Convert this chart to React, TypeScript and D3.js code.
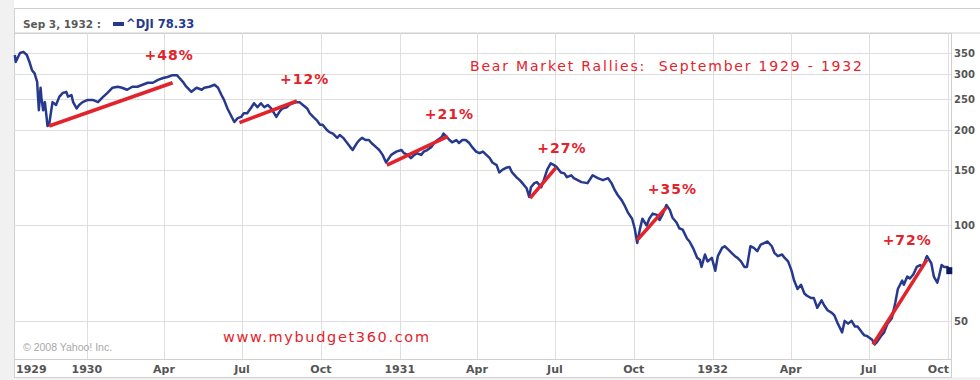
import React from 'react';
import * as d3 from 'd3';

const W = 980;
const H = 380;

// ^DJI closes (approx. every few trading days)
const dowDates: string[] = [
  '1929-10-09','1929-10-10','1929-10-15','1929-10-19','1929-10-23','1929-10-26','1929-10-29','1929-11-01','1929-11-04','1929-11-05',
  '1929-11-06','1929-11-08','1929-11-09','1929-11-11','1929-11-13','1929-11-15','1929-11-16','1929-11-18','1929-11-21','1929-11-22',
  '1929-11-26','1929-11-30','1929-12-04','1929-12-08','1929-12-10','1929-12-14','1929-12-16','1929-12-20','1929-12-23','1929-12-27',
  '1930-01-02','1930-01-08','1930-01-14','1930-01-19','1930-01-25','1930-01-31','1930-02-06','1930-02-11','1930-02-17','1930-02-23',
  '1930-03-01','1930-03-07','1930-03-13','1930-03-19','1930-03-25','1930-03-31','1930-04-05','1930-04-11','1930-04-16','1930-04-19',
  '1930-04-23','1930-04-27','1930-05-03','1930-05-09','1930-05-15','1930-05-18','1930-05-24','1930-05-30','1930-06-03','1930-06-07',
  '1930-06-10','1930-06-14','1930-06-19','1930-06-22','1930-06-26','1930-06-30','1930-07-03','1930-07-07','1930-07-12','1930-07-15',
  '1930-07-19','1930-07-23','1930-07-27','1930-07-31','1930-08-04','1930-08-10','1930-08-14','1930-08-17','1930-08-22','1930-08-25',
  '1930-08-29','1930-09-03','1930-09-06','1930-09-10','1930-09-15','1930-09-18','1930-09-22','1930-09-26','1930-09-30','1930-10-03',
  '1930-10-08','1930-10-11','1930-10-15','1930-10-20','1930-10-23','1930-10-27','1930-10-31','1930-11-04','1930-11-07','1930-11-12',
  '1930-11-15','1930-11-18','1930-11-22','1930-11-26','1930-11-29','1930-12-05','1930-12-08','1930-12-12','1930-12-16','1930-12-22',
  '1930-12-28','1931-01-03','1931-01-06','1931-01-10','1931-01-14','1931-01-18','1931-01-21','1931-01-26','1931-01-29','1931-02-02',
  '1931-02-07','1931-02-10','1931-02-14','1931-02-19','1931-02-21','1931-02-25','1931-02-28','1931-03-03','1931-03-08','1931-03-11',
  '1931-03-15','1931-03-19','1931-03-23','1931-03-27','1931-03-31','1931-04-04','1931-04-08','1931-04-12','1931-04-16','1931-04-19',
  '1931-04-24','1931-04-27','1931-05-01','1931-05-05','1931-05-09','1931-05-12','1931-05-17','1931-05-21','1931-05-24','1931-05-29',
  '1931-06-01','1931-06-03','1931-06-07','1931-06-10','1931-06-15','1931-06-18','1931-06-22','1931-06-26','1931-06-30','1931-07-03',
  '1931-07-08','1931-07-12','1931-07-15','1931-07-20','1931-07-23','1931-08-01','1931-08-08','1931-08-14','1931-08-20','1931-08-26',
  '1931-09-01','1931-09-05','1931-09-09','1931-09-12','1931-09-17','1931-09-20','1931-09-24','1931-09-29','1931-10-02','1931-10-05',
  '1931-10-08','1931-10-11','1931-10-16','1931-10-19','1931-10-23','1931-10-28','1931-10-31','1931-11-04','1931-11-08','1931-11-12',
  '1931-11-15','1931-11-20','1931-11-23','1931-11-27','1931-12-02','1931-12-05','1931-12-09','1931-12-14','1931-12-17','1931-12-19',
  '1931-12-23','1931-12-26','1931-12-31','1932-01-04','1932-01-07','1932-01-12','1932-01-15','1932-01-19','1932-01-23','1932-01-27',
  '1932-01-30','1932-02-03','1932-02-07','1932-02-10','1932-02-14','1932-02-18','1932-02-22','1932-02-26','1932-03-01','1932-03-05',
  '1932-03-10','1932-03-13','1932-03-17','1932-03-22','1932-03-25','1932-03-29','1932-04-02','1932-04-05','1932-04-09','1932-04-13',
  '1932-04-17','1932-04-20','1932-04-25','1932-04-28','1932-05-02','1932-05-07','1932-05-10','1932-05-14','1932-05-19','1932-05-22',
  '1932-05-26','1932-05-31','1932-06-03','1932-06-07','1932-06-11','1932-06-15','1932-06-18','1932-06-23','1932-06-26','1932-06-29',
  '1932-07-05','1932-07-08','1932-07-11','1932-07-16','1932-07-19','1932-07-23','1932-07-28','1932-08-01','1932-08-04','1932-08-09',
  '1932-08-11','1932-08-15','1932-08-18','1932-08-22','1932-08-26','1932-08-30','1932-09-02','1932-09-06','1932-09-07','1932-09-12',
  '1932-09-15','1932-09-19','1932-09-21','1932-09-24','1932-09-27','1932-10-01','1932-10-03',
];

const dowCloses: number[] = [
  345, 328, 350, 353, 345, 328, 309, 302, 284, 255,
  231, 272, 253, 231, 245, 220, 206, 208, 236, 245,
  240, 255, 262, 264, 255, 258, 245, 234, 240, 245,
  249, 249, 245, 253, 262, 272, 274, 272, 268, 274,
  274, 278, 282, 282, 288, 292, 294, 298, 298, 292,
  284, 274, 264, 272, 268, 272, 274, 278, 272, 258,
  249, 234, 220, 212, 218, 220, 226, 226, 236, 243,
  236, 243, 236, 240, 234, 220, 229, 234, 236, 240,
  243, 245, 245, 240, 234, 226, 220, 215, 208, 208,
  200, 197, 195, 189, 193, 189, 183, 177, 173, 182,
  186, 189, 186, 186, 182, 176, 173, 167, 158, 167,
  171, 173, 169, 167, 163, 167, 169, 167, 171, 173,
  177, 182, 186, 190, 195, 190, 186, 183, 186, 182,
  186, 186, 182, 176, 171, 169, 171, 167, 163, 158,
  155, 147, 150, 152, 153, 147, 142, 139, 136, 131,
  123, 132, 136, 137, 132, 139, 150, 157, 155, 153,
  147, 146, 142, 144, 141, 137, 136, 144, 141, 139,
  141, 136, 129, 125, 120, 116, 110, 105, 98, 88,
  97, 105, 100, 105, 109, 108, 104, 109, 116, 112,
  106, 102, 98, 97, 91, 89, 85, 79, 78, 74,
  81, 77, 79, 72, 80, 85, 86, 84, 82, 80,
  79, 77, 74, 74, 86, 85, 83, 87, 88, 89,
  86, 82, 80, 81, 79, 77, 72, 67, 63, 65,
  61, 60, 59, 59, 55, 58, 56, 54, 53, 52,
  49, 46, 50, 49, 50, 48, 48, 46, 45, 44.8,
  43.6, 42.1, 43, 45, 46, 49, 51, 57, 63, 67,
  65, 69, 68, 70, 74, 75, 74, 79, 80, 76,
  69, 66, 69, 75, 74, 74, 72,
];

// Rally trend lines and labels
const rallyStartDates = ['1929-11-18', '1930-06-28', '1930-12-17', '1931-06-02', '1931-10-05', '1932-07-06'];
const rallyStartValues = [206, 211, 155, 122, 90, 42.1];
const rallyEndDates = ['1930-04-11', '1930-09-03', '1931-02-26', '1931-07-02', '1931-11-08', '1932-09-07'];
const rallyEndValues = [282, 247, 191, 152, 114, 78];
const rallyLabels = ['+48%', '+12%', '+21%', '+27%', '+35%', '+72%'];
const rallyLabelDates = ['1930-04-07', '1930-09-12', '1931-02-28', '1931-07-09', '1931-11-15', '1932-08-15'];
const rallyLabelValues = [332, 280, 217, 169, 126, 86.5];

const yTickValues = [50, 100, 150, 200, 250, 300, 350];
const monthNames = ['Jan', 'Feb', 'Mar', 'Apr', 'May', 'Jun', 'Jul', 'Aug', 'Sep', 'Oct', 'Nov', 'Dec'];
const firstAxisLabel = '1929';

const headerDate = 'Sep 3, 1932 :';
const headerSymbol = '^DJI';
const headerValue = '78.33';
const titleText = 'Bear Market Rallies:  September 1929 - 1932';
const siteText = 'www.mybudget360.com';
const copyrightText = '\u00a9 2008 Yahoo! Inc.';

const NAVY = '#26398d';
const RED = '#e3232b';
const GRID = '#dedede';
const BORDER = '#cfcfcf';
const AXISTXT = '#555555';

export default function App() {
  const parse = d3.timeParse('%Y-%m-%d');
  const left = 14, right = 951, top = 33, bottom = 359;
  const x = d3.scaleTime().domain([new Date(1929, 9, 8), new Date(1932, 9, 5)]).range([left, right]);
  const y = d3.scaleLog().domain([37.9, 399]).range([bottom, top + 2]);

  const data = dowDates.map((d, i) => ({ date: parse(d) as Date, v: dowCloses[i] }));
  const line = d3.line<{ date: Date; v: number }>().x(d => x(d.date)).y(d => y(d.v));

  const xTicks = d3.timeMonth.every(3)!.range(new Date(1930, 0, 1), new Date(1932, 9, 2));
  const last = data[data.length - 1];

  const font = '"DejaVu Sans", Verdana, sans-serif';

  return (
    <svg width={W} height={H} style={{ position: 'absolute', left: 0, top: 0, background: '#fff' }}>
      <rect x={0} y={0} width={W} height={H} fill="#fff" />
      <rect x={0} y={0} width={left} height={H} fill="#f1f1f1" />
      <rect x={0} y={377} width={W} height={3} fill="#f1f1f1" />

      {/* header */}
      <rect x={left + 0.5} y={8.5} width={W} height={24.5} fill="#fff" stroke={BORDER} />
      <text x={23} y={28} fontFamily={font} fontWeight="bold" fontSize={10.5} fill="#5a5a5a">{headerDate}</text>
      <rect x={113} y={22} width={11} height={4} fill={NAVY} />
      <text x={126} y={28} fontFamily={font} fontWeight="bold" fontSize={11.5} fill={NAVY}>
        {headerSymbol}  {headerValue}
      </text>

      {/* plot frame */}
      <rect x={left + 0.5} y={top + 0.5} width={right - left} height={bottom - top} fill="#fff" stroke={BORDER} />

      {/* gridlines */}
      {yTickValues.map(t => (
        <line key={'gy' + t} x1={left} x2={right} y1={Math.round(y(t)) + 0.5} y2={Math.round(y(t)) + 0.5} stroke={GRID} />
      ))}
      {xTicks.map(t => (
        <line key={'gx' + t.getTime()} x1={Math.round(x(t)) + 0.5} x2={Math.round(x(t)) + 0.5} y1={top} y2={bottom} stroke={GRID} />
      ))}

      {/* x-axis band */}
      <rect x={left + 0.5} y={bottom + 0.5} width={right - left} height={18} fill="#fff" stroke={BORDER} />
      <text x={left + 2} y={373} fontFamily={font} fontWeight="bold" fontSize={11} fill={AXISTXT}>{firstAxisLabel}</text>
      {xTicks.map((t, i) => {
        const isLast = i === xTicks.length - 1;
        const label = t.getMonth() === 0 ? String(t.getFullYear()) : monthNames[t.getMonth()];
        return (
          <text key={'xl' + t.getTime()} x={isLast ? right - 2 : x(t)} y={373} textAnchor={isLast ? 'end' : 'middle'}
            fontFamily={font} fontWeight="bold" fontSize={11} fill={AXISTXT}>{label}</text>
        );
      })}

      {/* right axis */}
      {yTickValues.map(t => (
        <text key={'yl' + t} x={954} y={y(t) + 4} fontFamily={font} fontWeight="bold" fontSize={10} fill={AXISTXT}>{t}</text>
      ))}

      {/* watermark texts */}
      <text x={23} y={351} fontFamily='"Liberation Sans", Arial, sans-serif' fontSize={10.5} fill="#a8a8a8">{copyrightText}</text>
      <text x={223} y={342} fontFamily={font} fontSize={14.5} fill={RED} textLength={206} lengthAdjust="spacing">{siteText}</text>
      <text x={470} y={71} fontFamily={font} fontSize={14} fill={RED} textLength={392} lengthAdjust="spacing" style={{ whiteSpace: 'pre' }}>{titleText}</text>

      {/* price line */}
      <path d={line(data) || ''} fill="none" stroke={NAVY} strokeWidth={2.5} strokeLinejoin="round" />
      <rect x={x(last.date) - 3} y={y(last.v) - 3.5} width={6} height={7} fill="#0d1a5e" />

      {/* rallies */}
      {rallyLabels.map((lab, i) => (
        <g key={'r' + i}>
          <line x1={x(parse(rallyStartDates[i]) as Date)} y1={y(rallyStartValues[i])}
            x2={x(parse(rallyEndDates[i]) as Date)} y2={y(rallyEndValues[i])}
            stroke={RED} strokeWidth={3.5} strokeLinecap="butt" />
          <text x={x(parse(rallyLabelDates[i]) as Date)} y={y(rallyLabelValues[i])} textAnchor="middle"
            fontFamily={font} fontWeight="bold" fontSize={14} letterSpacing={1} fill={RED}>{lab}</text>
        </g>
      ))}
    </svg>
  );
}
